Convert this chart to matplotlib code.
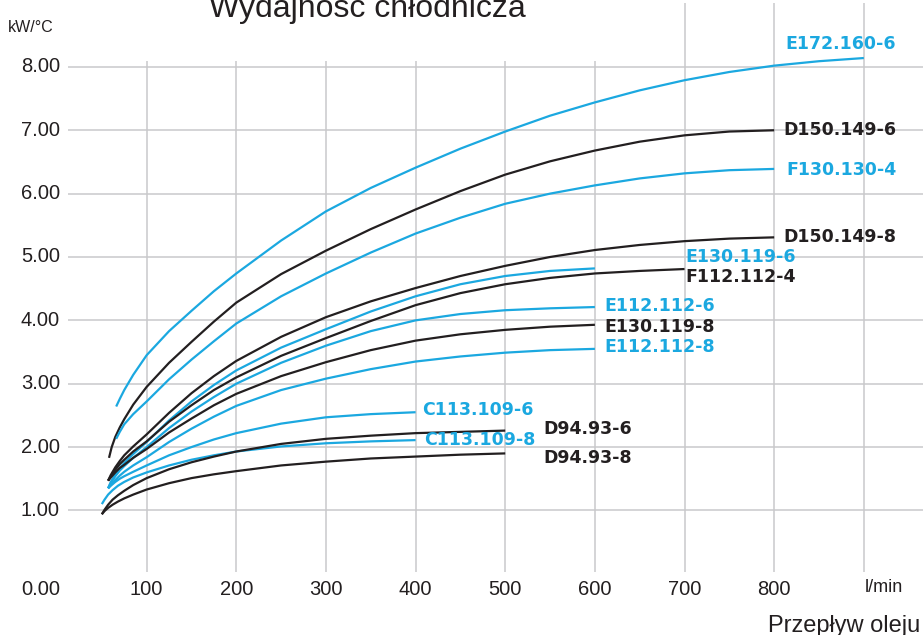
import matplotlib.pyplot as plt

plt.rcParams['font.family'] = ['Liberation Sans', 'DejaVu Sans']

CYAN = '#1ba8e0'
DARK = '#231f20'
GRID = '#c9c9cb'

# flow [l/min] vs. cooling capacity [kW/°C]
e172_x = [66, 70, 75, 85, 100, 125, 150, 175, 200, 250, 300, 350, 400, 450, 500, 550, 600, 650, 700, 750, 800, 850, 900]
e172_y = [2.64, 2.76, 2.90, 3.14, 3.45, 3.83, 4.15, 4.46, 4.74, 5.26, 5.72, 6.09, 6.41, 6.71, 6.98, 7.23, 7.44, 7.63, 7.79, 7.92, 8.02, 8.09, 8.14]

d150_6_x = [58, 61, 65, 70, 75, 85, 100, 125, 150, 175, 200, 250, 300, 350, 400, 450, 500, 550, 600, 650, 700, 750, 800]
d150_6_y = [1.83, 2.00, 2.16, 2.31, 2.44, 2.67, 2.95, 3.33, 3.66, 3.98, 4.28, 4.73, 5.10, 5.44, 5.75, 6.04, 6.30, 6.51, 6.68, 6.82, 6.92, 6.98, 7.00]

f130_x = [66, 70, 75, 85, 100, 125, 150, 175, 200, 250, 300, 350, 400, 450, 500, 550, 600, 650, 700, 750, 800]
f130_y = [2.13, 2.24, 2.36, 2.52, 2.72, 3.07, 3.38, 3.67, 3.95, 4.38, 4.74, 5.07, 5.37, 5.62, 5.84, 6.00, 6.13, 6.24, 6.32, 6.37, 6.39]

d150_8_x = [57, 60, 65, 70, 75, 85, 100, 125, 150, 175, 200, 250, 300, 350, 400, 450, 500, 550, 600, 650, 700, 750, 800]
d150_8_y = [1.47, 1.56, 1.68, 1.78, 1.87, 2.01, 2.20, 2.54, 2.85, 3.12, 3.36, 3.74, 4.05, 4.30, 4.51, 4.70, 4.86, 5.00, 5.11, 5.19, 5.25, 5.29, 5.31]

e130_6_x = [57, 60, 65, 70, 75, 85, 100, 125, 150, 175, 200, 250, 300, 350, 400, 450, 500, 550, 600]
e130_6_y = [1.35, 1.45, 1.57, 1.67, 1.75, 1.89, 2.08, 2.42, 2.72, 2.98, 3.21, 3.57, 3.86, 4.14, 4.38, 4.57, 4.70, 4.78, 4.82]

f112_x = [57, 60, 65, 70, 75, 85, 100, 125, 150, 175, 200, 250, 300, 350, 400, 450, 500, 550, 600, 650, 700]
f112_y = [1.47, 1.54, 1.64, 1.73, 1.80, 1.93, 2.09, 2.40, 2.66, 2.90, 3.10, 3.44, 3.72, 3.99, 4.24, 4.43, 4.57, 4.67, 4.74, 4.78, 4.81]

e112_6_x = [57, 60, 65, 70, 75, 85, 100, 125, 150, 175, 200, 250, 300, 350, 400, 450, 500, 550, 600]
e112_6_y = [1.35, 1.43, 1.54, 1.63, 1.70, 1.83, 2.00, 2.30, 2.56, 2.79, 3.00, 3.33, 3.60, 3.83, 4.00, 4.10, 4.16, 4.19, 4.21]

e130_8_x = [57, 60, 65, 70, 75, 85, 100, 125, 150, 175, 200, 250, 300, 350, 400, 450, 500, 550, 600]
e130_8_y = [1.47, 1.52, 1.60, 1.67, 1.72, 1.83, 1.97, 2.23, 2.45, 2.66, 2.84, 3.12, 3.34, 3.53, 3.68, 3.78, 3.85, 3.90, 3.93]

e112_8_x = [57, 60, 65, 70, 75, 85, 100, 125, 150, 175, 200, 250, 300, 350, 400, 450, 500, 550, 600]
e112_8_y = [1.35, 1.40, 1.48, 1.55, 1.61, 1.71, 1.84, 2.08, 2.29, 2.48, 2.65, 2.90, 3.08, 3.23, 3.35, 3.43, 3.49, 3.53, 3.55]

c113_6_x = [57, 60, 65, 70, 75, 85, 100, 125, 150, 175, 200, 250, 300, 350, 400]
c113_6_y = [1.35, 1.39, 1.45, 1.50, 1.54, 1.61, 1.71, 1.87, 2.00, 2.12, 2.22, 2.37, 2.47, 2.52, 2.55]

c113_8_x = [50, 53, 57, 62, 68, 75, 85, 100, 125, 150, 175, 200, 250, 300, 350, 400]
c113_8_y = [1.10, 1.17, 1.25, 1.32, 1.39, 1.45, 1.52, 1.60, 1.71, 1.80, 1.87, 1.93, 2.01, 2.06, 2.09, 2.11]

d94_6_x = [50, 53, 57, 62, 68, 75, 85, 100, 125, 150, 175, 200, 250, 300, 350, 400, 450, 500]
d94_6_y = [0.94, 1.01, 1.09, 1.17, 1.24, 1.31, 1.40, 1.51, 1.65, 1.76, 1.85, 1.93, 2.05, 2.13, 2.18, 2.22, 2.24, 2.26]

d94_8_x = [50, 53, 57, 62, 68, 75, 85, 100, 125, 150, 175, 200, 250, 300, 350, 400, 450, 500]
d94_8_y = [0.94, 0.99, 1.04, 1.09, 1.14, 1.19, 1.25, 1.33, 1.43, 1.51, 1.57, 1.62, 1.71, 1.77, 1.82, 1.85, 1.88, 1.90]

y_ticks = [1, 2, 3, 4, 5, 6, 7, 8]
x_ticks = [100, 200, 300, 400, 500, 600, 700, 800]

# name, x, y, colour, label offset from the line end (dx, dy)
series = [
    ('E172.160-6', e172_x, e172_y, CYAN, (-87, 0.22)),
    ('D150.149-6', d150_6_x, d150_6_y, DARK, (10, 0.0)),
    ('F130.130-4', f130_x, f130_y, CYAN, (14, -0.02)),
    ('D150.149-8', d150_8_x, d150_8_y, DARK, (10, 0.01)),
    ('E130.119-6', e130_6_x, e130_6_y, CYAN, (101, 0.18)),
    ('F112.112-4', f112_x, f112_y, DARK, (1, -0.12)),
    ('E112.112-6', e112_6_x, e112_6_y, CYAN, (11, 0.01)),
    ('E130.119-8', e130_8_x, e130_8_y, DARK, (11, -0.03)),
    ('E112.112-8', e112_8_x, e112_8_y, CYAN, (11, 0.03)),
    ('C113.109-6', c113_6_x, c113_6_y, CYAN, (7, 0.03)),
    ('C113.109-8', c113_8_x, c113_8_y, CYAN, (10, 0.0)),
    ('D94.93-6', d94_6_x, d94_6_y, DARK, (42, 0.02)),
    ('D94.93-8', d94_8_x, d94_8_y, DARK, (42, -0.08)),
]

fig = plt.figure(figsize=(9.23, 6.35), dpi=100)
ax = fig.add_axes([0, 0, 1, 1])
ax.set_xlim(-63.6, 966)
ax.set_ylim(-0.966, 9.056)
ax.axis('off')

# grid
ax.hlines(y_ticks, 12, 966, color=GRID, lw=1.1, zorder=1)
for x in x_ticks + [900]:
    top = 9.01 if x >= 700 else 8.09
    ax.vlines(x, 0.03, top, color=GRID, lw=1.1, zorder=1)

# curves + labels
for name, xs, ys, col, (dx, dy) in series:
    ax.plot(xs, ys, color=col, lw=1.6, solid_capstyle='butt', solid_joinstyle='round', zorder=3)
    ax.text(xs[-1] + dx, ys[-1] + dy, name, color=col, fontsize=12.5,
            fontweight='bold', family='DejaVu Sans', ha='left', va='center', zorder=4)

# axis labels
for y in y_ticks:
    ax.text(3.3, y, '%.2f' % y, ha='right', va='center', fontsize=14.5, color=DARK)
ax.text(3.3, -0.24, '0.00', ha='right', va='center', fontsize=14.5, color=DARK)
for x in x_ticks:
    ax.text(x, -0.24, str(x), ha='center', va='center', fontsize=14.5, color=DARK)
ax.text(901, -0.29, 'l/min', ha='left', va='baseline', fontsize=13, color=DARK)
ax.text(-54.7, 8.62, 'kW/°C', ha='left', va='center', fontsize=11.5, color=DARK)
ax.text(962.5, -0.92, 'Przepływ oleju', ha='right', va='baseline', fontsize=17, color=DARK)
ax.text(345.8, 8.79, 'Wydajność chłodnicza', ha='center', va='baseline', fontsize=23, color=DARK)

fig.savefig('out.png', dpi=100)
